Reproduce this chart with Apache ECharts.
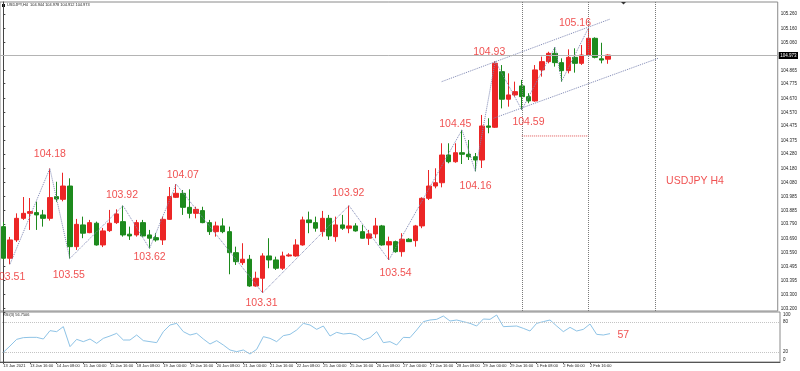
<!DOCTYPE html>
<html><head><meta charset="utf-8">
<script src="https://cdn.jsdelivr.net/npm/echarts@6/dist/echarts.min.js"></script>
<style>html,body{margin:0;padding:0;background:#fff}#c{width:800px;height:371px}</style>
</head><body><div id="c"></div>
<script>
// ---- data ----
const timeLabels = ['13 Jan 2021','13 Jan 16:00','14 Jan 08:00','15 Jan 00:00','15 Jan 16:00','18 Jan 08:00','19 Jan 00:00','19 Jan 16:00','20 Jan 08:00','21 Jan 00:00','21 Jan 16:00','22 Jan 08:00','25 Jan 00:00','25 Jan 16:00','26 Jan 08:00','27 Jan 00:00','27 Jan 16:00','28 Jan 08:00','29 Jan 00:00','29 Jan 16:00','1 Feb 08:00','2 Feb 00:00','2 Feb 16:00'];
const opens  = [103.773,103.552,103.680,103.831,103.866,103.871,103.855,103.831,103.983,103.964,104.057,103.633,103.785,103.731,103.797,103.645,103.745,103.801,103.808,103.720,103.715,103.801,103.715,103.696,103.680,103.824,103.978,104.006,103.908,103.866,103.885,103.801,103.738,103.778,103.738,103.591,103.521,103.545,103.358,103.412,103.568,103.540,103.482,103.568,103.568,103.645,103.820,103.801,103.738,103.831,103.703,103.785,103.762,103.778,103.738,103.692,103.722,103.778,103.645,103.668,103.598,103.685,103.675,103.778,103.971,104.057,104.080,104.274,104.227,104.290,104.279,104.262,104.239,104.477,104.468,104.857,104.664,104.694,104.757,104.682,104.652,104.869,104.927,104.985,104.920,104.864,104.957,104.915,104.973,105.090,104.947,104.944];
const highs  = [103.806,103.701,103.866,103.980,103.973,103.948,103.890,104.180,104.087,104.150,104.111,103.827,103.843,103.820,103.808,103.764,103.890,103.894,103.920,103.773,103.820,103.820,103.750,103.727,103.843,104.050,104.070,104.029,104.034,103.912,103.912,103.820,103.808,103.831,103.773,103.633,103.657,103.575,103.458,103.587,103.692,103.563,103.598,103.587,103.685,103.843,103.878,103.843,103.883,103.855,103.843,103.855,103.920,103.797,103.785,103.750,103.834,103.785,103.703,103.675,103.727,103.692,103.785,103.978,104.169,104.181,104.356,104.356,104.356,104.450,104.379,104.288,104.554,104.531,104.930,104.903,104.845,104.787,104.799,104.706,104.903,104.962,104.996,105.027,104.950,105.013,105.020,105.043,105.160,105.097,105.059,104.978];
const lows   = [103.540,103.510,103.666,103.820,103.750,103.750,103.773,103.815,103.947,103.950,103.550,103.610,103.692,103.727,103.640,103.630,103.736,103.792,103.703,103.680,103.703,103.703,103.620,103.668,103.645,103.820,103.973,103.855,103.831,103.831,103.797,103.715,103.703,103.727,103.440,103.505,103.505,103.352,103.353,103.310,103.482,103.470,103.470,103.563,103.563,103.640,103.727,103.738,103.703,103.680,103.668,103.750,103.727,103.738,103.690,103.645,103.692,103.640,103.540,103.591,103.563,103.666,103.633,103.762,103.959,104.041,104.048,104.216,104.220,104.211,104.239,104.160,104.183,104.426,104.463,104.600,104.612,104.682,104.590,104.636,104.647,104.822,104.915,104.892,104.787,104.845,104.850,104.904,104.966,104.950,104.915,104.912];
const closes = [103.552,103.680,103.831,103.866,103.878,103.855,103.831,103.976,103.966,104.057,103.633,103.789,103.727,103.801,103.645,103.743,103.797,103.862,103.715,103.708,103.801,103.708,103.692,103.680,103.824,103.983,104.006,103.908,103.866,103.894,103.801,103.738,103.778,103.738,103.591,103.528,103.545,103.358,103.412,103.568,103.540,103.482,103.568,103.575,103.645,103.820,103.801,103.762,103.831,103.708,103.785,103.762,103.778,103.743,103.692,103.722,103.778,103.645,103.668,103.598,103.685,103.668,103.778,103.971,104.057,104.080,104.274,104.227,104.290,104.279,104.262,104.239,104.477,104.468,104.915,104.664,104.694,104.717,104.682,104.652,104.869,104.927,104.985,104.920,104.864,104.957,104.915,104.973,105.090,104.957,104.938,104.973];
const rsi = [19.3,32,45.3,48.7,49.3,49.3,46,62.7,60.7,70.7,30.7,45.3,40.7,46,37.3,47.3,52,57.3,44,44,54,42.7,40.7,38.7,60.7,74,77.3,60.7,54,57.3,46,36,42.7,34,24,20.7,24,16,25.3,50.7,47.3,40.7,52.7,55.3,64,77.3,74,65.3,72,52,59.3,56,57.3,54,44,48.7,60.7,38.7,40.7,34,49.3,48.7,64,80.7,84,85.3,92,82,84,80.7,77.3,72,86,85.3,94,70.7,71.3,72,67.3,62,77.3,80.7,84,72,60.7,69.3,62,65.3,76,55.3,54,56.75];
const priceTicks = [105.260,105.160,105.060,104.865,104.775,104.670,104.570,104.475,104.375,104.280,104.180,104.080,103.985,103.885,103.790,103.690,103.590,103.495,103.395,103.300,103.200];
const rsiTicks = [0,20,80,100];
const rsiLevels = [20,80];
const zigzag = [[1,103.51],[7,104.18],[10,103.55],[18,103.92],[22,103.62],[26,104.07],[39,103.31],[52,103.92],[58,103.54],[69,104.45],[71,104.16],[74,104.93],[78,104.59],[83,105.03],[84,104.79],[88,105.16]];
const pivotLabels = [[0.88,103.423,'103.51'],[9.85,103.435,'103.55'],[7.0,104.281,'104.18'],[17.85,103.994,'103.92'],[22.0,103.563,'103.62'],[27.0,104.134,'104.07'],[38.85,103.241,'103.31'],[51.9,104.006,'103.92'],[59.0,103.451,'103.54'],[68.0,104.491,'104.45'],[71.05,104.057,'104.16'],[73.1,104.996,'104.93'],[79.0,104.503,'104.59'],[86.0,105.199,'105.16']];
const symbolText = [[104.05,104.092,'USDJPY H4']];
const channelUpper = [[65.95,104.787],[91.3,105.225]];
const channelLower = [[73.75,104.531],[98.5,104.950]];
const redLevel = [[78,104.407],[88,104.407]];
const vLines = [78,88,98];
const lastPrice = 104.973;
const rsiNote = [[93,54,'57']];
const titleMain = 'USDJPY,H4  104.944 104.978 104.912 104.973';
const titleRsi = 'RSI(3) 56.7506';
const N = 117;

// ---- build ----
const cats = Array.from({length: N}, (_, i) => String(i));
const candles = opens.map((o, i) => [o, closes[i], lows[i], highs[i]]);
const FONT = "'Liberation Sans', Arial, sans-serif";
const RED = '#ec2626';
const dotted = {type: 'dotted', width: 1, color: '#7d86b3'};

const chart = echarts.init(document.getElementById('c'), null, {renderer: 'canvas'});
chart.setOption({
  animation: false,
  backgroundColor: '#fff',
  textStyle: {fontFamily: FONT},
  title: [
    {text: titleMain, left: 7, top: 3, padding: 0, textStyle: {fontSize: 3.9, fontWeight: 'normal', color: '#222', fontFamily: FONT}},
    {text: titleRsi, left: 3, top: 313, padding: 0, textStyle: {fontSize: 3.9, fontWeight: 'normal', color: '#222', fontFamily: FONT}}
  ],
  graphic: [
    {type: 'rect', left: 2, top: 4, shape: {width: 3, height: 3}, style: {fill: '#111'}},
    {type: 'polygon', shape: {points: [[621, 2], [626, 2], [623.5, 4.5]]}, style: {fill: '#333'}}
  ],
  grid: [
    {left: 0, top: 2, width: 780, height: 309, show: true, borderColor: '#8a8a8a', borderWidth: 1, backgroundColor: '#fff'},
    {left: 0, top: 312, width: 780, height: 50, show: true, borderColor: '#8a8a8a', borderWidth: 1, backgroundColor: '#fff'}
  ],
  xAxis: [
    {type: 'category', gridIndex: 0, data: cats, boundaryGap: true, axisLine: {show: false}, axisTick: {show: false}, axisLabel: {show: false}, splitLine: {show: false}},
    {type: 'category', gridIndex: 1, data: cats, boundaryGap: true,
      axisLine: {show: true, lineStyle: {color: '#555'}},
      axisTick: {show: true, length: 2, alignWithLabel: true, interval: (i) => i % 4 === 0 && i / 4 < timeLabels.length, lineStyle: {color: '#555'}},
      axisLabel: {show: true, interval: 0, align: 'left', margin: 2, fontSize: 4, color: '#222', fontFamily: FONT,
        formatter: (v, i) => (i % 4 === 0 && i / 4 < timeLabels.length) ? timeLabels[i / 4] : ''},
      splitLine: {show: false}},
    {type: 'value', gridIndex: 0, min: -0.5, max: N - 0.5, show: false},
    {type: 'value', gridIndex: 1, min: -0.5, max: N - 0.5, show: false}
  ],
  yAxis: [
    {type: 'value', gridIndex: 0, position: 'right', min: 103.183, max: 105.344, scale: true,
      axisLine: {show: true, lineStyle: {color: '#444'}},
      axisTick: {show: true, length: 2, customValues: priceTicks, lineStyle: {color: '#444'}},
      axisLabel: {show: true, customValues: priceTicks, margin: 3, fontSize: 4.5, color: '#222', fontFamily: FONT, formatter: (v) => v.toFixed(3)},
      splitLine: {show: false}},
    {type: 'value', gridIndex: 1, position: 'right', min: 0, max: 100,
      axisLine: {show: true, lineStyle: {color: '#444'}},
      axisTick: {show: true, length: 2, customValues: rsiTicks, lineStyle: {color: '#444'}},
      axisLabel: {show: true, customValues: rsiTicks, showMinLabel: true, showMaxLabel: true, margin: 3, fontSize: 4.5, color: '#222', fontFamily: FONT,
        verticalAlignMinLabel: 'bottom', verticalAlignMaxLabel: 'top'},
      splitLine: {show: false}}
  ],
  series: [
    {type: 'candlestick', xAxisIndex: 0, yAxisIndex: 0, data: candles, barWidth: 5,
      itemStyle: {color: RED, color0: '#1d8a1d', borderColor: RED, borderColor0: '#1d8a1d', borderWidth: 1},
      markLine: {silent: true, symbol: 'none', data: [{yAxis: lastPrice}],
        lineStyle: {color: '#b4b4b4', type: 'solid', width: 1},
        label: {show: true, position: 'end', distance: 1, formatter: () => lastPrice.toFixed(3), backgroundColor: '#000', color: '#fff', fontSize: 4.5, padding: [1, 1.5, 1, 1.5], fontFamily: FONT}}},
    {type: 'line', xAxisIndex: 2, yAxisIndex: 0, data: zigzag, symbol: 'none', lineStyle: dotted, z: 3,
      markLine: {silent: true, symbol: 'none', label: {show: false}, lineStyle: {type: 'dotted', color: '#7a7a7a', width: 1},
        data: vLines.map(v => ({xAxis: v}))}},
    {type: 'line', xAxisIndex: 2, yAxisIndex: 0, data: channelUpper, symbol: 'none', lineStyle: dotted, z: 3},
    {type: 'line', xAxisIndex: 2, yAxisIndex: 0, data: channelLower, symbol: 'none', lineStyle: dotted, z: 3},
    {type: 'line', xAxisIndex: 2, yAxisIndex: 0, data: redLevel, symbol: 'none', lineStyle: {type: 'dotted', color: '#e05050', width: 1}, z: 3},
    {type: 'scatter', xAxisIndex: 2, yAxisIndex: 0, data: pivotLabels, symbolSize: 1, itemStyle: {color: 'rgba(0,0,0,0)'}, z: 5,
      label: {show: true, position: 'inside', formatter: (p) => p.data[2], color: RED, fontSize: 10.5, fontFamily: FONT}},
    {type: 'scatter', xAxisIndex: 2, yAxisIndex: 0, data: symbolText, symbolSize: 1, itemStyle: {color: 'rgba(0,0,0,0)'}, z: 5,
      label: {show: true, position: 'inside', formatter: (p) => p.data[2], color: RED, fontSize: 10.5, fontFamily: FONT}},
    {type: 'line', xAxisIndex: 1, yAxisIndex: 1, data: rsi, symbol: 'none', lineStyle: {color: '#8ec3e6', width: 1},
      markLine: {silent: true, symbol: 'none', label: {show: false}, lineStyle: {type: 'dotted', color: '#c4c4c4', width: 1},
        data: rsiLevels.map(v => ({yAxis: v}))}},
    {type: 'scatter', xAxisIndex: 3, yAxisIndex: 1, data: rsiNote, symbolSize: 1, itemStyle: {color: 'rgba(0,0,0,0)'}, z: 5,
      label: {show: true, position: 'inside', formatter: (p) => p.data[2], color: RED, fontSize: 10.5, fontFamily: FONT}}
  ]
});
</script></body></html>
